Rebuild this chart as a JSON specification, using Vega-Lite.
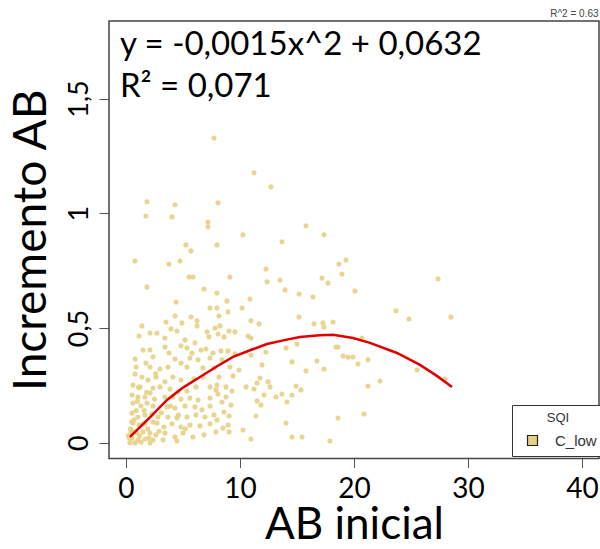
{
  "$schema": "https://vega.github.io/schema/vega-lite/v6.json",
  "autosize": {"type": "none"},
  "padding": {"left": 109, "top": 21, "right": 1, "bottom": 90.5},
  "width": 490,
  "height": 437.5,
  "background": "white",
  "config": {
    "view": {"stroke": "#444", "strokeWidth": 1.5},
    "axis": {"grid": false, "domain": false, "tickColor": "#555", "tickWidth": 1, "labelFont": "Lato", "titleFont": "Lato", "labelColor": "#000", "titleColor": "#000", "titleFontWeight": "normal"}
  },
  "datasets": {
    "pts": [
      {"x":7.72,"y":1.328},{"x":11.23,"y":1.176},{"x":12.72,"y":1.115},{"x":1.84,"y":1.050},{"x":4.30,"y":1.037},{"x":8.07,"y":1.046},{"x":1.75,"y":0.988},{"x":4.04,"y":0.984},{"x":7.19,"y":0.962},{"x":7.19,"y":0.941},{"x":10.26,"y":0.906},{"x":15.79,"y":0.945},{"x":17.37,"y":0.906},{"x":13.68,"y":0.876},{"x":5.26,"y":0.862},{"x":5.70,"y":0.836},{"x":7.98,"y":0.862},{"x":0.79,"y":0.792},{"x":3.77,"y":0.779},{"x":4.74,"y":0.792},{"x":12.28,"y":0.757},{"x":5.53,"y":0.722},{"x":5.88,"y":0.722},{"x":9.12,"y":0.722},{"x":17.19,"y":0.718},{"x":1.84,"y":0.679},{"x":12.37,"y":0.701},{"x":13.51,"y":0.709},{"x":6.84,"y":0.670},{"x":7.98,"y":0.652},{"x":13.95,"y":0.666},{"x":15.18,"y":0.648},{"x":16.40,"y":0.635},{"x":17.72,"y":0.696},{"x":4.39,"y":0.613},{"x":8.86,"y":0.618},{"x":10.88,"y":0.626},{"x":18.68,"y":0.779},{"x":19.30,"y":0.796},{"x":18.95,"y":0.735},{"x":20.09,"y":0.661},{"x":27.37,"y":0.714},{"x":23.68,"y":0.575},{"x":24.82,"y":0.539},{"x":28.51,"y":0.548},{"x":17.28,"y":0.522},{"x":17.37,"y":0.504},{"x":18.16,"y":0.526},{"x":20.70,"y":0.456},{"x":18.42,"y":0.417},{"x":18.60,"y":0.417},{"x":19.04,"y":0.378},{"x":19.47,"y":0.373},{"x":19.91,"y":0.373},{"x":20.35,"y":0.343},{"x":21.23,"y":0.361},{"x":17.37,"y":0.321},{"x":25.53,"y":0.317},{"x":27.98,"y":0.277},{"x":21.23,"y":0.247},{"x":22.28,"y":0.269},{"x":18.60,"y":0.107},{"x":20.88,"y":0.125},{"x":17.89,"y":0.007},
      {"x":10.18,"y":0.587},{"x":8.16,"y":0.552},{"x":8.95,"y":0.570},{"x":10.96,"y":0.531},{"x":11.67,"y":0.518},{"x":15.18,"y":0.548},{"x":16.49,"y":0.518},{"x":8.25,"y":0.509},{"x":9.04,"y":0.487},{"x":9.56,"y":0.483},{"x":10.70,"y":0.465},{"x":8.07,"y":0.474},{"x":8.60,"y":0.461},{"x":10.96,"y":0.456},{"x":14.04,"y":0.413},{"x":15.00,"y":0.430},{"x":12.28,"y":0.395},{"x":10.96,"y":0.382},{"x":8.33,"y":0.400},{"x":8.95,"y":0.400},{"x":9.56,"y":0.387},{"x":14.56,"y":0.352},{"x":16.75,"y":0.356},{"x":11.93,"y":0.339},{"x":8.42,"y":0.361},{"x":9.12,"y":0.330},{"x":9.91,"y":0.317},{"x":15.79,"y":0.313},{"x":9.39,"y":0.291},{"x":8.16,"y":0.286},{"x":7.98,"y":0.251},{"x":8.77,"y":0.243},{"x":11.75,"y":0.282},{"x":11.49,"y":0.260},{"x":12.46,"y":0.265},{"x":10.53,"y":0.243},{"x":9.30,"y":0.225},{"x":11.23,"y":0.234},{"x":12.63,"y":0.243},{"x":14.91,"y":0.247},{"x":15.35,"y":0.230},{"x":8.07,"y":0.212},{"x":8.77,"y":0.199},{"x":12.11,"y":0.208},{"x":13.16,"y":0.199},{"x":13.68,"y":0.212},{"x":14.56,"y":0.208},{"x":8.42,"y":0.177},{"x":11.49,"y":0.182},{"x":11.84,"y":0.164},{"x":14.12,"y":0.177},{"x":9.21,"y":0.164},{"x":8.60,"y":0.134},{"x":9.04,"y":0.116},{"x":11.40,"y":0.116},{"x":7.98,"y":0.099},{"x":8.95,"y":0.077},{"x":8.51,"y":0.064},{"x":14.04,"y":0.086},{"x":14.56,"y":0.025},{"x":15.44,"y":0.025},{"x":10.96,"y":0.016},{"x":10.26,"y":0.055},{"x":7.89,"y":0.047},{"x":9.04,"y":0.047},
      {"x":7.37,"y":0.587},{"x":7.98,"y":0.587},{"x":4.30,"y":0.552},{"x":5.70,"y":0.548},{"x":3.51,"y":0.526},{"x":4.91,"y":0.522},{"x":6.23,"y":0.531},{"x":6.23,"y":0.509},{"x":1.40,"y":0.509},{"x":2.72,"y":0.478},{"x":2.11,"y":0.478},{"x":3.95,"y":0.496},{"x":4.47,"y":0.487},{"x":7.11,"y":0.483},{"x":7.28,"y":0.461},{"x":7.81,"y":0.500},{"x":1.14,"y":0.465},{"x":3.42,"y":0.456},{"x":5.18,"y":0.448},{"x":6.05,"y":0.435},{"x":1.49,"y":0.404},{"x":2.11,"y":0.404},{"x":3.42,"y":0.417},{"x":3.77,"y":0.391},{"x":4.82,"y":0.422},{"x":5.35,"y":0.413},{"x":5.79,"y":0.391},{"x":6.58,"y":0.404},{"x":7.02,"y":0.408},{"x":7.63,"y":0.391},{"x":0.79,"y":0.365},{"x":2.37,"y":0.374},{"x":4.30,"y":0.365},{"x":5.61,"y":0.369},{"x":6.32,"y":0.361},{"x":7.37,"y":0.369},{"x":1.75,"y":0.347},{"x":2.11,"y":0.330},{"x":2.98,"y":0.321},{"x":3.68,"y":0.330},{"x":4.82,"y":0.347},{"x":5.35,"y":0.330},{"x":6.75,"y":0.326},{"x":7.72,"y":0.326},{"x":0.79,"y":0.299},{"x":1.40,"y":0.286},{"x":1.93,"y":0.273},{"x":2.63,"y":0.286},{"x":3.42,"y":0.265},{"x":4.12,"y":0.286},{"x":4.82,"y":0.273},{"x":5.96,"y":0.278},{"x":6.75,"y":0.286},{"x":0.61,"y":0.251},{"x":1.23,"y":0.243},{"x":2.37,"y":0.238},{"x":2.98,"y":0.243},{"x":3.86,"y":0.234},{"x":4.56,"y":0.221},{"x":5.35,"y":0.225},{"x":6.14,"y":0.243},{"x":7.37,"y":0.243},{"x":7.89,"y":0.230},{"x":0.53,"y":0.208},{"x":1.05,"y":0.199},{"x":1.67,"y":0.199},{"x":2.11,"y":0.217},{"x":3.42,"y":0.199},{"x":4.12,"y":0.199},{"x":4.82,"y":0.190},{"x":5.61,"y":0.195},{"x":6.32,"y":0.186},{"x":7.37,"y":0.195},{"x":0.61,"y":0.173},{"x":1.32,"y":0.160},{"x":1.84,"y":0.173},{"x":2.37,"y":0.160},{"x":3.60,"y":0.156},{"x":4.30,"y":0.151},{"x":5.18,"y":0.160},{"x":6.05,"y":0.156},{"x":6.67,"y":0.143},{"x":7.37,"y":0.160},{"x":0.53,"y":0.129},{"x":1.05,"y":0.112},{"x":1.67,"y":0.121},{"x":2.28,"y":0.125},{"x":2.81,"y":0.112},{"x":3.68,"y":0.112},{"x":4.47,"y":0.108},{"x":5.35,"y":0.112},{"x":6.14,"y":0.121},{"x":6.93,"y":0.112},{"x":7.72,"y":0.121},{"x":0.61,"y":0.086},{"x":1.14,"y":0.077},{"x":1.67,"y":0.086},{"x":2.72,"y":0.086},{"x":3.33,"y":0.068},{"x":4.04,"y":0.082},{"x":4.82,"y":0.068},{"x":5.61,"y":0.077},{"x":6.49,"y":0.073},{"x":7.37,"y":0.082},{"x":0.44,"y":0.047},{"x":0.96,"y":0.042},{"x":1.49,"y":0.047},{"x":2.11,"y":0.042},{"x":2.63,"y":0.034},{"x":3.42,"y":0.042},{"x":4.30,"y":0.025},{"x":5.00,"y":0.042},{"x":5.88,"y":0.025},{"x":6.84,"y":0.034},{"x":0.53,"y":0.020},{"x":1.05,"y":0.012},{"x":1.67,"y":0.016},{"x":2.37,"y":0.012},{"x":3.25,"y":0.012},{"x":4.47,"y":0.007},{"x":1.32,"y":0.003},{"x":0.79,"y":-0.001},{"x":2.11,"y":-0.001},
      {"x":0.30,"y":0.020},{"x":0.40,"y":0.060},{"x":0.70,"y":0.100},{"x":0.90,"y":0.140},{"x":1.20,"y":0.030},{"x":1.50,"y":0.080},{"x":1.90,"y":0.060},{"x":2.40,"y":0.090},{"x":2.90,"y":0.050},{"x":3.10,"y":0.130},{"x":0.50,"y":0.090},{"x":1.00,"y":0.180},{"x":1.60,"y":0.140},{"x":2.50,"y":0.190},{"x":3.90,"y":0.160},{"x":0.35,"y":0.000},{"x":0.20,"y":0.030},{"x":0.60,"y":0.050},{"x":1.10,"y":0.240},{"x":0.90,"y":0.330},{"x":2.60,"y":0.300},{"x":1.80,"y":0.220},{"x":4.60,"y":0.120},{"x":5.20,"y":0.060},{"x":2.00,"y":0.020}
    ],
    "fit": [
      {"x":0.35,"y":0.025},{"x":2.1,"y":0.11},{"x":3.6,"y":0.186},{"x":5.0,"y":0.24},{"x":6.49,"y":0.286},{"x":8.0,"y":0.333},{"x":9.39,"y":0.374},{"x":11.0,"y":0.405},{"x":12.37,"y":0.43},{"x":14.0,"y":0.448},{"x":15.26,"y":0.461},{"x":17.0,"y":0.468},{"x":18.16,"y":0.47},{"x":19.91,"y":0.456},{"x":21.4,"y":0.435},{"x":23.77,"y":0.391},{"x":25.79,"y":0.339},{"x":27.3,"y":0.29},{"x":28.6,"y":0.243}
    ]
  },
  "layer": [
    {
      "data": {"name": "pts"},
      "mark": {"type": "point", "filled": true, "size": 26, "opacity": 0.9},
      "encoding": {
        "x": {"field": "x", "type": "quantitative", "scale": {"domain": [-1.49, 41.49], "nice": false, "zero": false},
          "axis": {"values": [0, 10, 20, 30, 40], "title": "AB inicial", "titleFontSize": 44, "titlePadding": 0, "labelFontSize": 28, "tickSize": 9, "labelPadding": 8, "labelFlush": false}},
        "y": {"field": "y", "type": "quantitative", "scale": {"domain": [-0.069, 1.838], "nice": false, "zero": false},
          "axis": {"values": [0, 0.5, 1, 1.5], "labelExpr": "replace(format(datum.value, '~g'), '.', ',')", "title": "Incremento AB", "titleFontSize": 46, "titlePadding": 10, "labelFontSize": 27, "labelAngle": -90, "labelAlign": "center", "labelBaseline": "alphabetic", "tickSize": 10, "labelPadding": 12, "labelFlush": false}},
        "color": {"datum": "C_low", "type": "nominal", "scale": {"domain": ["C_low"], "range": ["#E5D083"]},
          "legend": {"title": "SQI", "orient": "none", "legendX": 403, "legendY": 384, "padding": 7, "strokeColor": "#333", "fillColor": "white", "titleFont": "Liberation Sans", "titleFontSize": 13, "titleFontWeight": "normal", "titleColor": "#333", "titleAnchor": "middle", "titlePadding": 8, "labelFont": "Liberation Sans", "labelFontSize": 15, "labelColor": "#333", "symbolType": "square", "symbolSize": 100, "symbolStrokeColor": "#222", "symbolStrokeWidth": 1.2, "symbolOpacity": 1, "symbolOffset": 6, "labelOffset": 15}}
      }
    },
    {
      "data": {"name": "fit"},
      "mark": {"type": "line", "color": "#E00000", "strokeWidth": 2.5},
      "encoding": {
        "x": {"field": "x", "type": "quantitative"},
        "y": {"field": "y", "type": "quantitative"}
      }
    },
    {
      "data": {"values": [{}]},
      "mark": {"type": "text", "align": "left", "baseline": "alphabetic", "font": "Lato", "fontSize": 33, "color": "#000"},
      "encoding": {
        "x": {"datum": -0.53, "type": "quantitative"},
        "y": {"datum": 1.69, "type": "quantitative"},
        "text": {"value": "y = -0,0015x^2 + 0,0632"}
      }
    },
    {
      "data": {"values": [{}]},
      "mark": {"type": "text", "align": "left", "baseline": "alphabetic", "font": "Lato", "fontSize": 33, "color": "#000"},
      "encoding": {
        "x": {"datum": -0.53, "type": "quantitative"},
        "y": {"datum": 1.507, "type": "quantitative"},
        "text": {"value": "R² = 0,071"}
      }
    },
    {
      "data": {"values": [{}]},
      "mark": {"type": "text", "align": "right", "baseline": "alphabetic", "font": "Liberation Sans", "fontSize": 10, "color": "#444"},
      "encoding": {
        "x": {"datum": 41.45, "type": "quantitative"},
        "y": {"datum": 1.857, "type": "quantitative"},
        "text": {"value": "R^2 =  0.63"}
      }
    }
  ]
}
